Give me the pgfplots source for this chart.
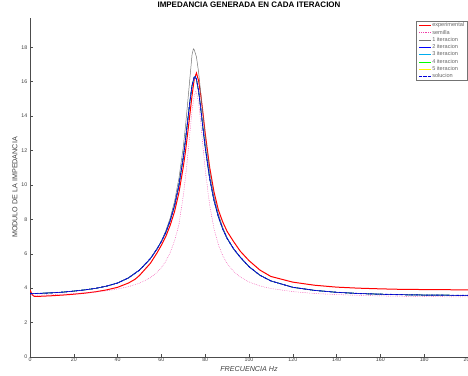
\documentclass[border=0pt]{standalone}
\usepackage{fontspec}
\setmainfont{Liberation Sans}
\usepackage{pgfplots}
\usepackage{pgfplotstable}
\pgfplotsset{compat=1.18}

\pgfplotstableread{
f v
0 3.90
1 3.62
2 3.52
5 3.53
10 3.56
15 3.60
20 3.65
25 3.71
30 3.79
35 3.90
40 4.05
45 4.30
48 4.52
50 4.74
55 5.45
58 6.05
60 6.50
62 7.00
64 7.65
66 8.45
68 9.55
70 11.05
71 11.95
72 13.00
73 14.10
74 15.20
75 16.15
76 16.50
77 16.05
78 15.20
79 14.15
80 13.00
82 11.05
84 9.60
86 8.55
88 7.85
90 7.30
93 6.70
96 6.15
100 5.60
105 5.05
110 4.68
120 4.35
130 4.17
140 4.06
150 4.00
160 3.96
170 3.93
180 3.92
190 3.91
200 3.90
}\tred

\pgfplotstableread{
f v
0 3.58
10 3.62
20 3.68
30 3.78
35 3.85
40 3.95
45 4.09
50 4.29
55 4.61
58 4.92
60 5.19
62 5.56
64 6.06
66 6.75
68 7.70
70 9.38
71 10.43
72 11.67
73 13.03
74 14.32
75 15.22
75.7 15.42
76 15.38
77 14.75
78 13.57
79 12.20
80 10.91
82 8.84
84 7.46
86 6.53
88 5.89
90 5.44
93 4.97
96 4.65
100 4.36
105 4.13
110 3.98
120 3.80
130 3.69
140 3.63
150 3.58
160 3.55
170 3.53
180 3.51
190 3.50
200 3.49
}\tmag

\pgfplotstableread{
f v
0 3.68
5 3.70
10 3.73
15 3.77
20 3.83
25 3.90
30 3.99
35 4.12
40 4.30
45 4.60
50 5.05
55 5.72
58 6.28
60 6.72
62 7.34
64 8.07
66 9.04
68 10.38
70 12.21
71 13.42
72 14.78
73 16.19
74 17.58
74.6 17.90
75 17.85
76 17.44
77 16.54
78 15.31
79 14.02
80 12.80
82 10.81
84 9.36
86 8.31
88 7.54
90 6.94
93 6.28
96 5.80
100 5.25
105 4.75
110 4.42
120 4.05
130 3.87
140 3.76
150 3.69
160 3.65
170 3.62
180 3.60
190 3.59
200 3.58
}\tgray

\pgfplotstableread{
f v
0 3.68
5 3.70
10 3.73
15 3.77
20 3.83
25 3.90
30 3.99
35 4.12
40 4.30
45 4.60
50 5.05
55 5.72
58 6.28
60 6.72
62 7.24
64 7.92
66 8.79
68 9.98
70 11.61
71 12.62
72 13.73
73 14.84
74 15.78
75 16.27
75.5 16.29
76 16.14
77 15.44
78 14.41
79 13.27
80 12.20
82 10.41
84 9.11
86 8.16
88 7.44
90 6.89
93 6.28
96 5.80
100 5.25
105 4.75
110 4.42
120 4.05
130 3.87
140 3.76
150 3.69
160 3.65
170 3.62
180 3.60
190 3.59
200 3.58
}\tblue

\begin{document}
\begin{tikzpicture}
\begin{axis}[
  at={(30bp,19bp)}, anchor=south west,
  scale only axis, width=438bp, height=339bp,
  xmin=0, xmax=200, ymin=0, ymax=19.7,
  axis x line=bottom, axis y line=left,
  axis line style={-, black!70, line width=0.5bp},
  xtick={0,20,...,200}, ytick={0,2,...,18},
  tick align=inside, major tick length=3bp,
  tick style={black!70, line width=0.4bp},
  /pgf/number format/assume math mode=true,
  every tick label/.append style={font=\fontsize{5.3}{6}\selectfont, text=black!75},
  xticklabel style={inner sep=1bp},
  yticklabel style={inner sep=1bp, xshift=-1.5bp},
  xlabel={\itshape FRECUENCIA Hz},
  ylabel={MODULO DE LA IMPEDANCIA},
  label style={font=\fontsize{7.2}{8}\selectfont, text=black!75},
  xlabel style={at={(axis description cs:0.5,0)}, anchor=center, yshift=-12bp},
  ylabel style={at={(axis description cs:0,0.5)}, anchor=center, rotate=0, yshift=15bp},
  title={IMPEDANCIA GENERADA EN CADA ITERACION},
  title style={font=\fontsize{8}{9}\selectfont\bfseries, at={(axis description cs:0.5,1)}, anchor=base, yshift=4.2bp},
  legend style={at={(0.9977,0.991)}, anchor=north east, draw=black!55, line width=0.4bp,
    font=\fontsize{5.6}{6}\selectfont, text=black!60, inner xsep=2bp, inner ysep=1bp,
    row sep=1.0bp, nodes={inner sep=0.6bp, text height=3.9bp, text depth=1.2bp}},
  legend cell align=left,
  legend image code/.code={\draw[#1] (0bp,0bp) -- (12bp,0bp);},
]
\addplot[red, line width=1bp] table {\tred};
\addlegendentry{experimental}
\addplot[magenta!75, line width=0.5bp, dash pattern=on 0.6bp off 1.2bp] table {\tmag};
\addlegendentry{semilla}
\addplot[black!55, line width=0.5bp] table {\tgray};
\addlegendentry{1 iteracion}
\addplot[blue, line width=0.5bp] table {\tblue};
\addlegendentry{2 iteracion}
\addplot[cyan, line width=0.5bp] table {\tblue};
\addlegendentry{3 iteracion}
\addplot[green, line width=0.5bp] table {\tblue};
\addlegendentry{4 iteracion}
\addplot[yellow, line width=0.5bp] table {\tblue};
\addlegendentry{5 iteracion}
\addplot[blue, line width=0.5bp, forget plot] table {\tblue};
\addplot[blue!85!black, line width=0.9bp, dash pattern=on 2.5bp off 1bp on 0.6bp off 1bp] table {\tblue};
\addlegendentry{solucion}
\end{axis}
\pgfresetboundingbox
\path (0bp,0bp) rectangle (468bp,376bp);
\end{tikzpicture}
\end{document}
